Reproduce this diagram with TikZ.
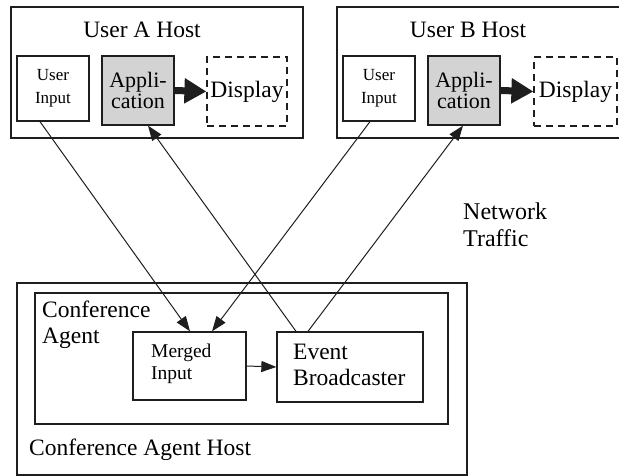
\documentclass[tikz,border=0pt]{standalone}
\usepackage{fontspec}
\setmainfont{Liberation Serif}
\usetikzlibrary{arrows.meta}
\definecolor{appgray}{RGB}{211,211,211}
\definecolor{ink}{RGB}{30,30,30}
\tikzset{
  box/.style={draw=ink, line width=1.3pt, inner sep=0pt, align=center},
  dashbox/.style={draw=ink, line width=1.2pt, inner sep=0pt, dash pattern=on 7pt off 5pt},
  txt/.style={inner sep=0pt, align=left},
  big/.style={font=\fontsize{23.5}{26}\selectfont},
  small/.style={font=\fontsize{17}{23}\selectfont},
  mid/.style={font=\fontsize{22}{21}\selectfont},
  flow/.style={draw=ink, line width=1pt, -{Triangle[length=15pt,width=11pt]}},
  thick flow/.style={draw=ink, line width=7pt, -{Triangle[length=22pt,width=24pt]}},
}
\begin{document}
\begin{tikzpicture}[x=1pt, y=-1pt]
  \useasboundingbox (0,0) rectangle (619,476);
  \clip (0,0) rectangle (619,476);

  % user A host
  \node[box, minimum width=292pt, minimum height=131pt] (hostA) at (157,72.5) {};
  \node[txt, big] (titleA) at (142,30) {User A Host};
  \node[box, small, minimum width=72pt, minimum height=65pt] (inA) at (53,88.5) {User\\Input};
  \node[box, mid, fill=appgray, minimum width=72pt, minimum height=69pt] (appA) at (138,90.5) {Appli-\\cation};
  \node[dashbox, big, minimum width=80pt, minimum height=69pt] (dispA) at (247,91.5) {Display};

  % user B host
  \node[box, minimum width=285pt, minimum height=131pt] (hostB) at (479.5,72.5) {};
  \node[txt, big] (titleB) at (468,30) {User B Host};
  \node[box, small, minimum width=72pt, minimum height=65pt] (inB) at (379,88.5) {User\\Input};
  \node[box, mid, fill=appgray, minimum width=72pt, minimum height=69pt] (appB) at (464,90.5) {Appli-\\cation};
  \node[dashbox, big, minimum width=83pt, minimum height=69pt] (dispB) at (575.5,91.5) {Display};

  % conference agent host
  \node[box, minimum width=450pt, minimum height=192pt] (cahost) at (242,379) {};
  \node[box, minimum width=413pt, minimum height=131pt] (agent) at (241.5,358.5) {};
  \node[txt, big, anchor=west] (agentlbl) at (42,325) {Conference\\Agent};
  \node[txt, big, anchor=west] (hostlbl) at (29,450) {Conference Agent Host};
  \node[box, minimum width=113pt, minimum height=68pt] (merged) at (189.5,366) {};
  \node[txt, font=\fontsize{19.5}{22}\selectfont, anchor=west] (mergedlbl) at (151,364) {Merged\\Input};
  \node[box, minimum width=146pt, minimum height=70pt] (event) at (350,367) {};
  \node[txt, big, anchor=west] (eventlbl) at (293,365) {Event\\Broadcaster};

  \node[txt, font=\fontsize{24}{27}\selectfont, anchor=west] (net) at (463,225) {Network\\Traffic};

  % local display paths
  \draw[thick flow] (appA.east) -- (dispA.west);
  \draw[thick flow] (appB.east) -- (dispB.west);

  % network traffic
  \draw[flow] ([xshift=-13pt]inA.south) -- ([xshift=0.5pt]merged.north);
  \draw[flow] ([xshift=-9pt]inB.south) -- ([xshift=22.5pt]merged.north);
  \draw[flow] ([xshift=-54pt]event.north) -- ([xshift=10pt]appA.south);
  \draw[flow] ([xshift=-42pt]event.north) -- ([xshift=-1pt]appB.south);
  \draw[flow] (merged.east) -- (event.west);
\end{tikzpicture}
\end{document}
